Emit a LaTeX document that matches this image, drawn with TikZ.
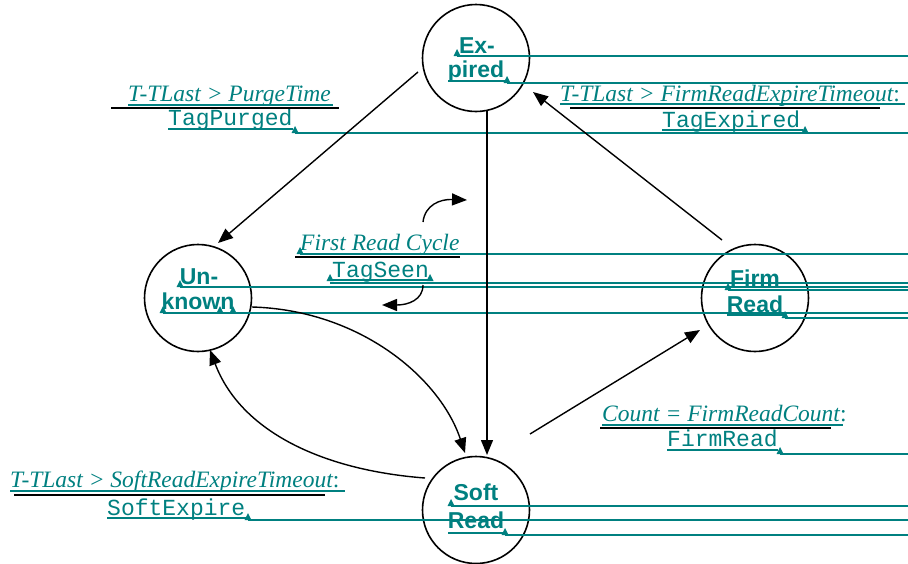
\documentclass[tikz,border=0pt]{standalone}
\usepackage{fontspec}
\setmainfont{Liberation Serif}
\newfontfamily\lsans{Liberation Sans}
\newfontfamily\lmono{Liberation Mono}
\usetikzlibrary{arrows.meta}
\definecolor{tealc}{RGB}{0,128,128}
\begin{document}
\begin{tikzpicture}[x=1pt,y=-1pt,
  state/.style={circle, draw=black, line width=1.6pt, minimum size=107pt, inner sep=0pt},
  edge/.style={line width=1.4pt, -{Triangle[length=15pt,width=12pt]}},
  cond/.style={anchor=base west, inner sep=0pt, text=tealc, font=\fontsize{23.5}{28}\selectfont\itshape},
  act/.style={anchor=base west, inner sep=0pt, text=tealc, font=\fontsize{23}{28}\selectfont\lmono},
  sname/.style={anchor=base, inner sep=0pt, text=tealc, font=\fontsize{23}{26}\selectfont\lsans\bfseries},
  link/.style={draw=tealc, line width=1.3pt},
  bar/.style={draw=black, line width=2pt},
  trim/.pic={\fill[tealc] (-3.5,0) -- (3.5,0) -- (0,-7) -- cycle;}
]
\useasboundingbox (0,0) rectangle (908,563);

% states
\node[state] (exp)  at (476,58)  {};
\node[state] (unk)  at (198,298) {};
\node[state] (firm) at (755,298) {};
\node[state] (soft) at (476,510) {};

% state names
\node[sname] (expa) at (477,53)  {Ex-};
\node[sname] (expb) at (476,77)  {pired};
\node[sname] (unka) at (199,284) {Un-};
\node[sname] (unkb) at (198,309) {known};
\node[sname] (firma) at (755,286) {Firm};
\node[sname] (firmb) at (755,312) {Read};
\node[sname] (softa) at (476,500) {Soft};
\node[sname] (softb) at (476,528) {Read};

% transition labels
\node[cond] (c1) at (128,101) {T-TLast > PurgeTime};
\node[act]  (a1) at (168,125) {TagPurged};
\node[cond] (c2) at (560,101) {T-TLast > FirmReadExpireTimeout\upshape:};
\node[act]  (a2) at (662,127) {TagExpired};
\node[cond] (c3) at (300,250) {First Read Cycle};
\node[act]  (a3) at (332,277) {TagSeen};
\node[cond] (c4) at (602,421) {Count = FirmReadCount\upshape:};
\node[act]  (a4) at (667,446) {FirmRead};
\node[cond] (c5) at (10,487)  {T-TLast > SoftReadExpireTimeout\upshape:};
\node[act]  (a5) at (107,515) {SoftExpire};

% hyperlink underlines and runaway lines
\path[link] (457,56) -- (908,56);
\path[link] (448,81) -- (507,81);
\path[link] (507,83) -- (908,83);
\path[link] (128,105) -- (333,105);
\path[link] (168,129) -- (293,129);
\path[link] (295,133) -- (908,133);
\path[link] (560,104) -- (905,104);
\path[link] (662,130) -- (803,130);
\path[link] (300,254) -- (908,254);
\path[link] (330,280) -- (430,280);
\path[link] (330,283) -- (908,283);
\path[link] (180,287) -- (908,287);
\path[link] (728,290) -- (908,290);
\path[link] (163,313) -- (908,313);
\path[link] (727,315) -- (785,315);
\path[link] (785,318) -- (908,318);
\path[link] (602,425) -- (843,425);
\path[link] (667,450) -- (778,450);
\path[link] (780,454) -- (908,454);
\path[link] (10,491) -- (345,491);
\path[link] (107,518) -- (246,518);
\path[link] (248,520) -- (908,520);
\path[link] (451,506) -- (908,506);
\path[link] (448,533) -- (505,533);
\path[link] (505,535) -- (908,535);

\pic at (457,56) {trim};
\pic at (507,83) {trim};
\pic at (295,133) {trim};
\pic at (805,133) {trim};
\pic at (300,254) {trim};
\pic at (330,281) {trim};
\pic at (430,281) {trim};
\pic at (180,287) {trim};
\pic at (728,290) {trim};
\pic at (163,313) {trim};
\pic at (220,313) {trim};
\pic at (233,313) {trim};
\pic at (785,318) {trim};
\pic at (780,454) {trim};
\pic at (248,520) {trim};
\pic at (451,506) {trim};
\pic at (505,535) {trim};

% black separator bars
\path[bar] (111,108) -- (339,108);
\path[bar] (570,108) -- (880,108);
\path[bar] (295,257) -- (460,257);
\path[bar] (600,428) -- (831,428);
\path[bar] (14,495) -- (325,495);

% transitions
\draw[edge] ([shift={(-58,14)}]exp.center) -- ([shift={(20,-55)}]unk.center);
\draw[edge] ([shift={(-33,-58)}]firm.center) -- ([shift={(57,34)}]exp.center);
\draw[edge] ([shift={(11,53)}]exp.center) -- ([shift={(11,-55)}]soft.center);
\draw[edge] ([shift={(54,-76)}]soft.center) -- ([shift={(-55,32)}]firm.center);
\draw[edge] ([shift={(54,9)}]unk.center) .. controls (360,310) and (440,378) .. ([shift={(-11,-57)}]soft.center);
\draw[edge] ([shift={(-51,-32)}]soft.center) .. controls (320,470) and (240,430) .. ([shift={(12,52)}]unk.center);

% small loop arrows
\coordinate (l1s) at (423,222);
\coordinate (l1e) at (467,200);
\coordinate (l2s) at (423,285);
\coordinate (l2e) at (382,305);
\draw[edge] (l1s) .. controls (425,205) and (440,199) .. (l1e);
\draw[edge] (l2s) .. controls (423,300) and (408,305) .. (l2e);
\end{tikzpicture}
\end{document}
